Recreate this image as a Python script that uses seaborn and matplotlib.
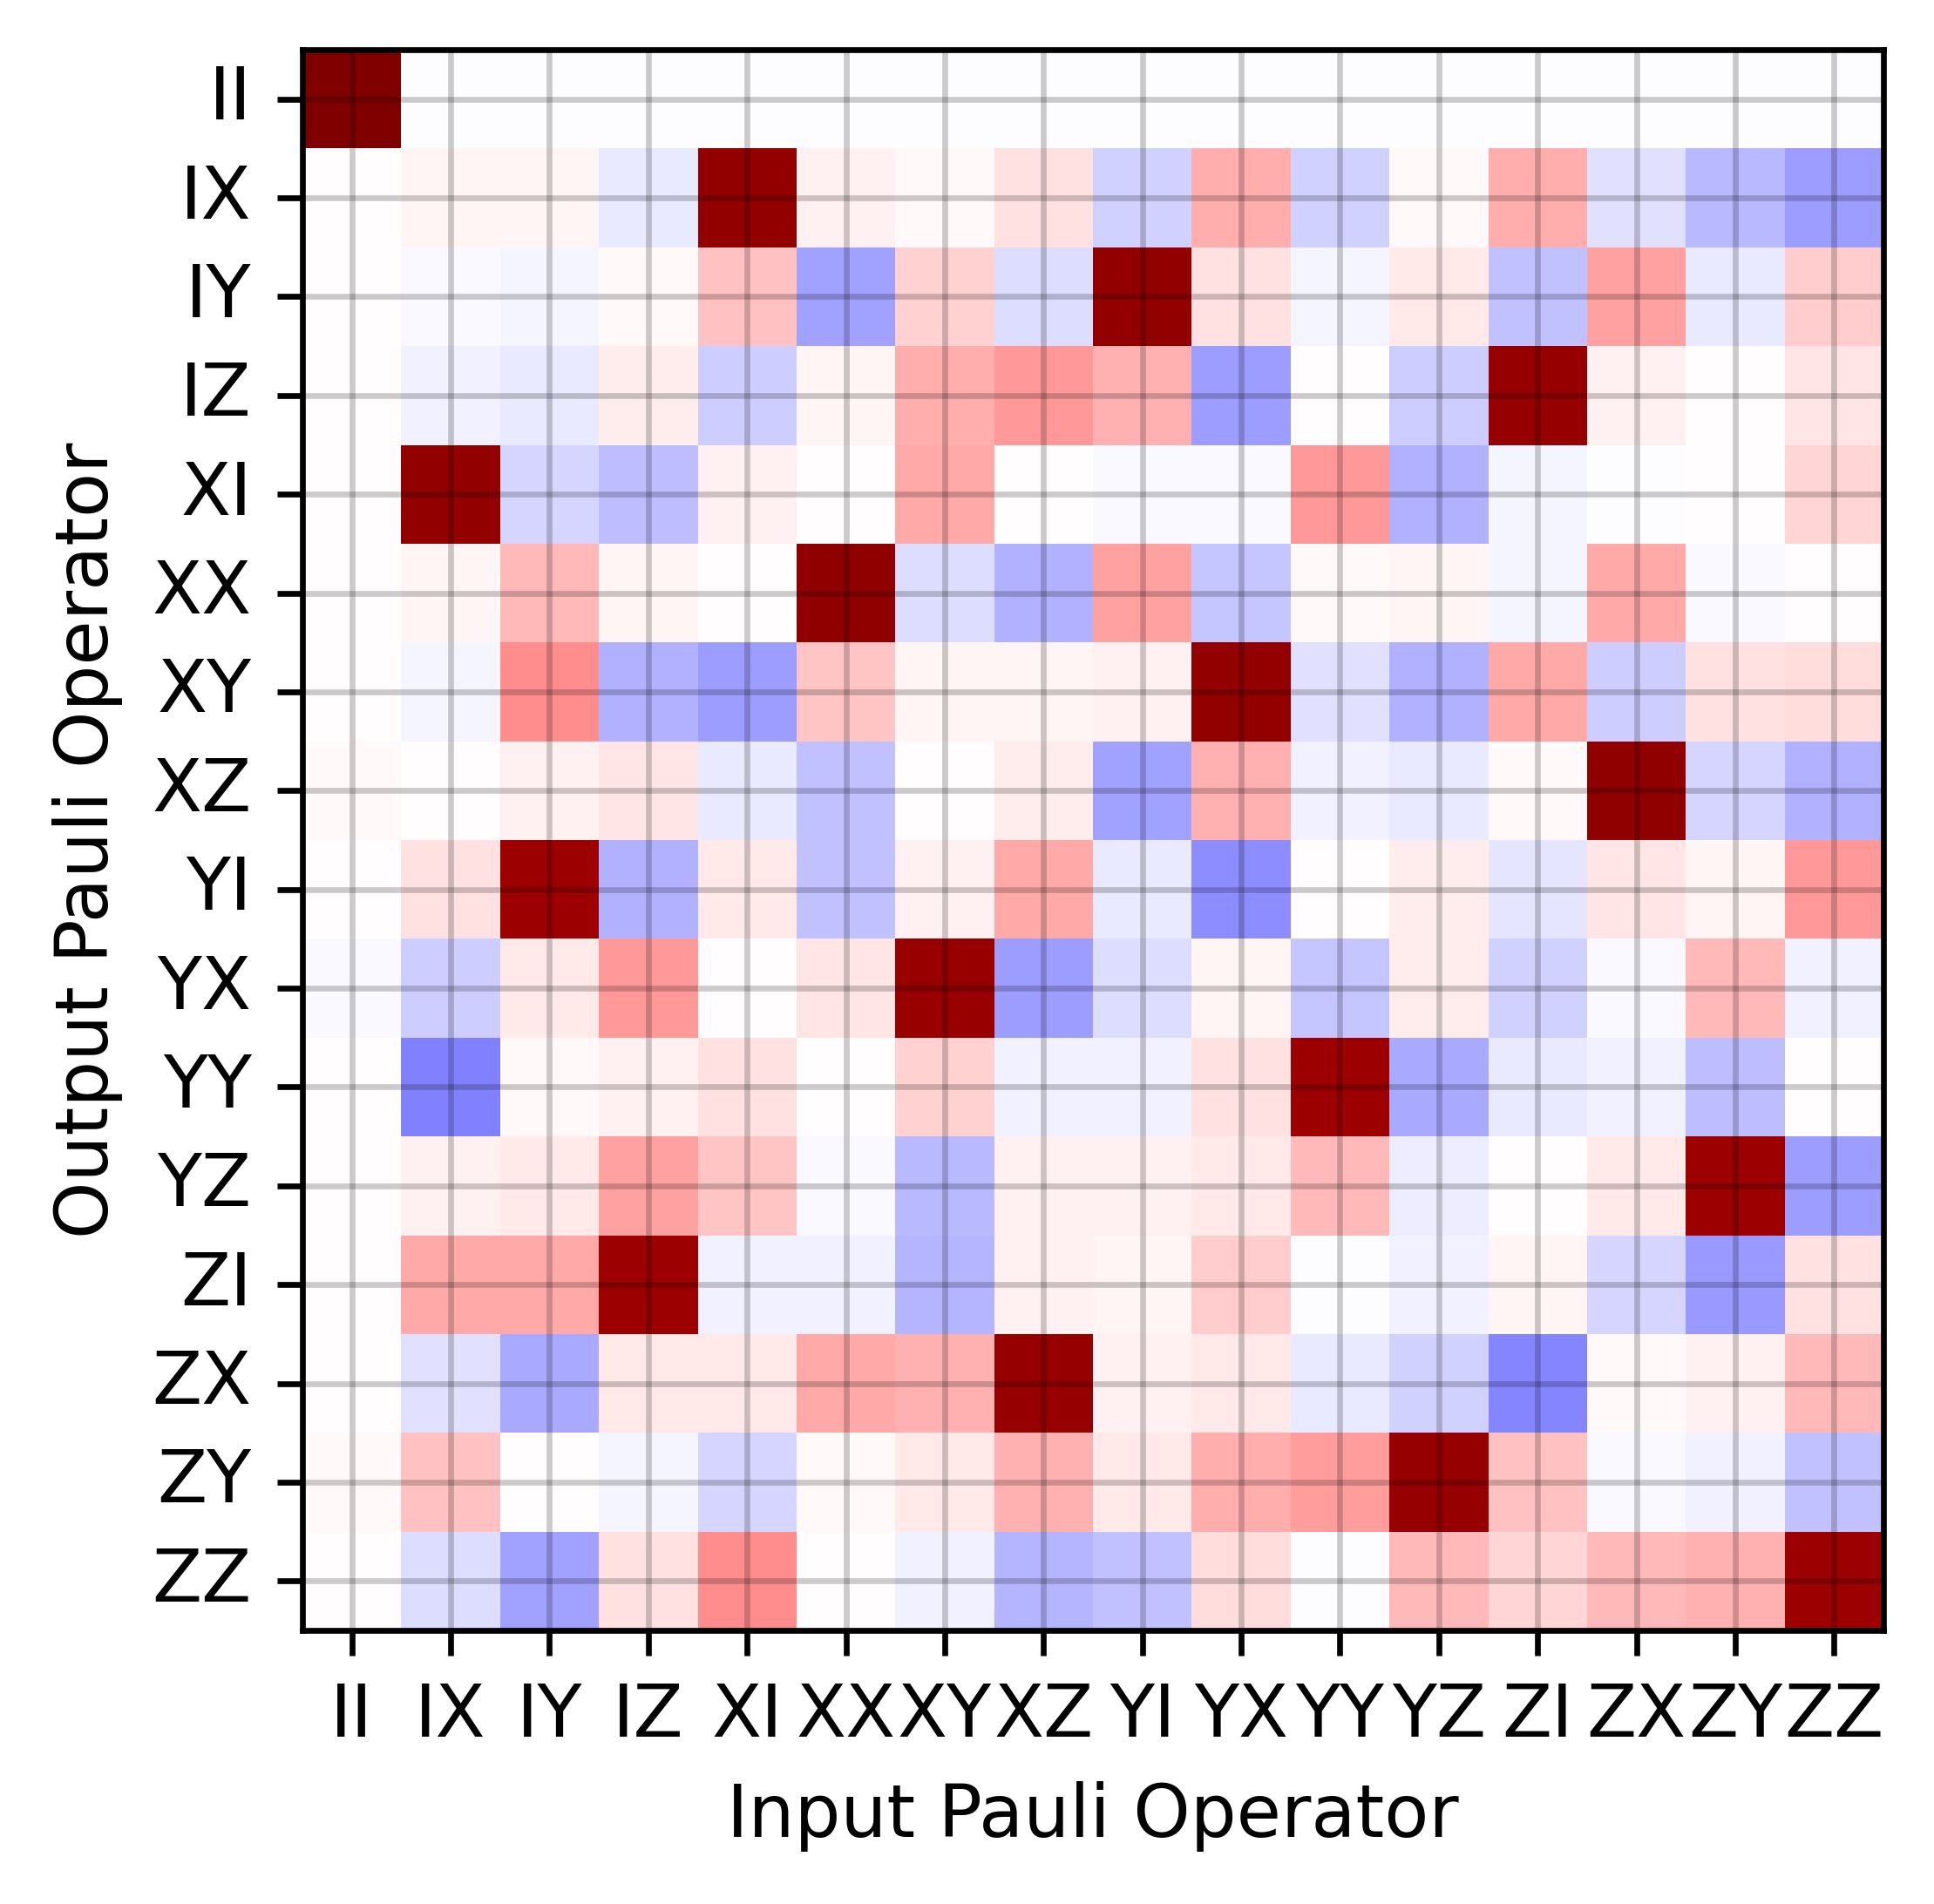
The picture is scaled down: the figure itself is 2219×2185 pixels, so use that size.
import numpy as np
import pandas as pd
import matplotlib
matplotlib.use('Agg')
import matplotlib.pyplot as plt
import seaborn as sns

paulis = ['II', 'IX', 'IY', 'IZ', 'XI', 'XX', 'XY', 'XZ',
          'YI', 'YX', 'YY', 'YZ', 'ZI', 'ZX', 'ZY', 'ZZ']

# rows = output operator, columns = input operator
row_II = [1.0] + [-0.005] * 15
row_IX = [0, 0.02, 0.02, -0.045, 0.92, 0.03, 0.01, 0.06, -0.09, 0.16, -0.09, 0.01, 0.16, -0.06, -0.14, -0.19]
row_IY = [0, -0.01, -0.02, 0.01, 0.12, -0.18, 0.09, -0.07, 0.92, 0.06, -0.02, 0.04, -0.12, 0.18, -0.04, 0.1]
row_IZ = [0, -0.03, -0.045, 0.035, -0.1, 0.02, 0.16, 0.2, 0.15, -0.19, 0, -0.1, 0.91, 0.03, 0, 0.05]
row_XI = [0, 0.92, -0.08, -0.13, 0.03, 0, 0.17, 0, -0.015, -0.01, 0.2, -0.15, -0.02, -0.005, 0, 0.08]
row_XX = [0, 0.02, 0.14, 0.02, 0, 0.93, -0.07, -0.15, 0.18, -0.11, 0.01, 0.02, -0.02, 0.17, -0.015, 0.005]
row_XY = [0, -0.02, 0.22, -0.15, -0.19, 0.11, 0.02, 0.02, 0.025, 0.92, -0.055, -0.15, 0.17, -0.1, 0.055, 0.07]
row_XZ = [0.01, 0, 0.03, 0.05, -0.04, -0.12, 0, 0.035, -0.18, 0.15, -0.025, -0.04, 0.01, 0.93, -0.08, -0.155]
row_YI = [0, 0.06, 0.89, -0.15, 0.045, -0.125, 0.03, 0.165, -0.04, -0.22, 0, 0.035, -0.05, 0.05, 0.02, 0.2]
row_YX = [-0.01, -0.1, 0.045, 0.2, 0, 0.05, 0.9, -0.19, -0.065, 0.02, -0.11, 0.035, -0.09, -0.01, 0.14, -0.03]
row_YY = [0, -0.25, 0.01, 0.03, 0.06, 0, 0.09, -0.03, -0.025, 0.06, 0.89, -0.17, -0.04, -0.03, -0.13, 0]
row_YZ = [0, 0.03, 0.04, 0.18, 0.11, -0.015, -0.14, 0.03, 0.03, 0.045, 0.14, -0.035, 0, 0.045, 0.89, -0.19]
row_ZI = [0, 0.17, 0.17, 0.89, -0.025, -0.03, -0.145, 0.03, 0.02, 0.1, -0.005, -0.025, 0.02, -0.08, -0.2, 0.06]
row_ZX = [0, -0.055, -0.17, 0.04, 0.045, 0.17, 0.15, 0.91, 0.03, 0.04, -0.04, -0.09, -0.235, 0.01, 0.03, 0.14]
row_ZY = [0.01, 0.12, 0, -0.02, -0.08, 0.01, 0.04, 0.15, 0.045, 0.16, 0.19, 0.91, 0.12, -0.015, -0.025, -0.12]
row_ZZ = [0, -0.065, -0.18, 0.055, 0.22, 0, -0.03, -0.145, -0.12, 0.065, -0.005, 0.14, 0.08, 0.14, 0.15, 0.89]

rows = [row_II, row_IX, row_IY, row_IZ, row_XI, row_XX, row_XY, row_XZ,
        row_YI, row_YX, row_YY, row_YZ, row_ZI, row_ZX, row_ZY, row_ZZ]
ptm = pd.DataFrame(np.array(rows), index=paulis, columns=paulis)

fig = plt.figure(figsize=(2219 / 600, 2185 / 600), dpi=600)
ax = fig.add_axes([347 / 2219, 1 - 1871 / 2185, 1814 / 2219, 1814 / 2185])

sns.heatmap(ptm, ax=ax, cmap='seismic', vmin=-1, vmax=1, cbar=False, square=True)

for s in ax.spines.values():
    s.set_visible(True)
    s.set_linewidth(0.8)
ax.grid(True, color='k', alpha=0.2, linewidth=0.8)
ax.tick_params(axis='x', labelrotation=0)
ax.tick_params(axis='y', labelrotation=0)
ax.set_xlabel('Input Pauli Operator')
ax.set_ylabel('Output Pauli Operator')

fig.savefig('out.png', dpi=600)
